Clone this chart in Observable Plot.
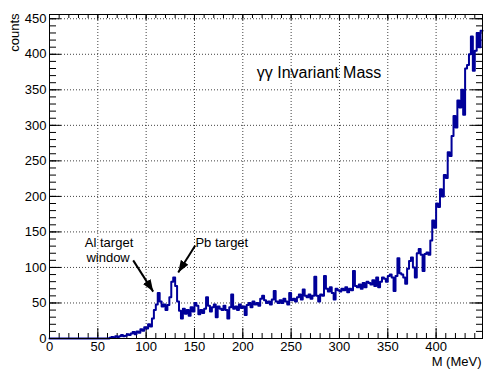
<!DOCTYPE html>
<html><head><meta charset="utf-8">
<script src="https://cdn.jsdelivr.net/npm/d3@7"></script>
<script src="https://cdn.jsdelivr.net/npm/@observablehq/plot@0.6"></script>
<style>body{margin:0;background:#fff;} svg{display:block;}</style>
</head><body><div id="chart"></div>
<script>
// Histogram: 2 MeV bins starting at 0 MeV
const binStart = 0;
const binWidth = 2;
const counts = [
  0,0,0,0,0, 0,0,0,0,0, 0,0,0,0,0, 0,0,0,0,0, 0,0,0,0,0, 0,0,0,0,0,
  0,1,2,1,3,
  2,3,5,3,4,
  6,5,7,9,6,
  10,8,13,11,16,
  14,20,17,28,40,
  48,64,52,45,48,
  40,47,58,80,86,
  74,52,39,28,42,
  35,40,32,44,38,
  50,46,34,40,36,
  42,58,46,38,44,
  48,30,45,42,40,
  46,40,28,44,62,
  42,45,40,48,43,
  45,33,47,50,44,
  52,48,50,46,56,
  60,54,50,52,48,
  55,67,52,50,54,
  50,56,52,48,64,
  54,56,52,58,62,
  55,69,60,58,62,
  56,60,87,60,52,
  62,60,88,70,66,
  72,64,55,70,68,
  66,70,68,72,65,
  70,68,95,74,72,
  76,70,78,72,80,
  78,76,82,74,86,
  72,80,86,84,80,
  88,90,86,67,88,
  113,92,90,86,77,
  98,109,114,100,86,
  120,126,118,95,119,
  121,118,138,166,156,
  190,185,210,200,230,
  226,262,257,285,313,
  297,335,325,350,315,
  380,385,400,425,377,
  405,430,410,433
];
const xMajorTicks = [0,50,100,150,200,250,300,350,400];
const xMinorTicks = [0,10,20,30,40,50,60,70,80,90,100,110,120,130,140,150,160,170,180,190,200,210,220,230,240,250,260,270,280,290,300,310,320,330,340,350,360,370,380,390,400,410,420,430,440];
const yMajorTicks = [0,50,100,150,200,250,300,350,400,450];
const yMinorTicks = [0,10,20,30,40,50,60,70,80,90,100,110,120,130,140,150,160,170,180,190,200,210,220,230,240,250,260,270,280,290,300,310,320,330,340,350,360,370,380,390,400,410,420,430,440,450];
const xTitle = "M (MeV)";
const yTitle = "counts";
const chartTitle = [{text: "γγ Invariant Mass", x: 214.5, y: 374}];
const annotationTexts = [
  {text: "Al target", x: 61.6, y: 134},
  {text: "window", x: 60.6, y: 113}
];
const annotationTextsLeft = [
  {text: "Pb target", x: 151, y: 135}
];
const arrows = [
  {x1: 86.6, y1: 110, x2: 107.3, y2: 66},
  {x1: 150.8, y1: 131, x2: 133.2, y2: 93}
];

const histPoints = counts.map((c, i) => ({x: binStart + i * binWidth, y: c}));
histPoints.push({x: binStart + counts.length * binWidth, y: counts[counts.length - 1]});

const W = 490, H = 377, mL = 49, mR = 8, mT = 14, mB = 39;
const plotW = W - mL - mR, plotH = H - mT - mB;

function filledHead(color, context) {
  const ns = "http://www.w3.org/2000/svg";
  const m = context.document.createElementNS(ns, "marker");
  m.setAttribute("viewBox", "-12 -5 12 10");
  m.setAttribute("markerWidth", 12);
  m.setAttribute("markerHeight", 10);
  m.setAttribute("markerUnits", "userSpaceOnUse");
  m.setAttribute("orient", "auto");
  m.setAttribute("refX", 0);
  m.setAttribute("refY", 0);
  const p = context.document.createElementNS(ns, "path");
  p.setAttribute("d", "M-12,-4.5L0,0L-12,4.5Z");
  p.setAttribute("fill", color);
  p.setAttribute("stroke", "none");
  m.appendChild(p);
  return m;
}

const chart = Plot.plot({
  width: W, height: H,
  marginLeft: mL, marginRight: mR, marginTop: mT, marginBottom: mB,
  style: {fontFamily: "'Liberation Sans', Arial, sans-serif", fontSize: "13px", background: "white", color: "black"},
  x: {domain: [0, 448]},
  y: {domain: [0, 456]},
  marks: [
    Plot.gridX(xMajorTicks, {stroke: "black", strokeOpacity: 0.75, strokeDasharray: "1,2"}),
    Plot.gridY(yMajorTicks, {stroke: "black", strokeOpacity: 0.75, strokeDasharray: "1,2"}),
    // bottom ticks (inward)
    Plot.tickX(xMajorTicks, {x: d => d, insetTop: plotH - 10, stroke: "black"}),
    Plot.tickX(xMinorTicks, {x: d => d, insetTop: plotH - 5, stroke: "black"}),
    // top ticks
    Plot.tickX(xMajorTicks, {x: d => d, insetBottom: plotH - 6, stroke: "black"}),
    Plot.tickX(xMinorTicks, {x: d => d, insetBottom: plotH - 4, stroke: "black"}),
    // left ticks
    Plot.tickY(yMajorTicks, {y: d => d, insetRight: plotW - 12, stroke: "black"}),
    Plot.tickY(yMinorTicks, {y: d => d, insetRight: plotW - 7, stroke: "black"}),
    // right ticks
    Plot.tickY(yMajorTicks, {y: d => d, insetLeft: plotW - 12, stroke: "black"}),
    Plot.tickY(yMinorTicks, {y: d => d, insetLeft: plotW - 6, stroke: "black"}),
    Plot.axisX(xMajorTicks, {tickSize: 0, tickPadding: 3, fontSize: 13, label: null}),
    Plot.axisY(yMajorTicks, {tickSize: 0, tickPadding: 3, fontSize: 13, label: null}),
    Plot.line(histPoints, {x: "x", y: "y", curve: "step-after", stroke: "#000099", strokeWidth: 2}),
    Plot.frame({stroke: "black", strokeWidth: 1}),
    Plot.text(chartTitle, {x: "x", y: "y", text: "text", textAnchor: "start", fontSize: 16}),
    Plot.text(annotationTexts, {x: "x", y: "y", text: "text", textAnchor: "middle", fontSize: 13}),
    Plot.text(annotationTextsLeft, {x: "x", y: "y", text: "text", textAnchor: "start", fontSize: 13}),
    Plot.link(arrows, {x1: "x1", y1: "y1", x2: "x2", y2: "y2", stroke: "black", strokeWidth: 2, markerEnd: filledHead}),
    Plot.text([yTitle], {frameAnchor: "top-left", text: d => d, rotate: -90, textAnchor: "end", dx: -39.5, dy: -1, fontSize: 13}),
    Plot.text([xTitle], {frameAnchor: "bottom-right", text: d => d, textAnchor: "end", dx: -1, dy: 27, fontSize: 13})
  ]
});
document.getElementById("chart").appendChild(chart);
</script>
</body></html>
